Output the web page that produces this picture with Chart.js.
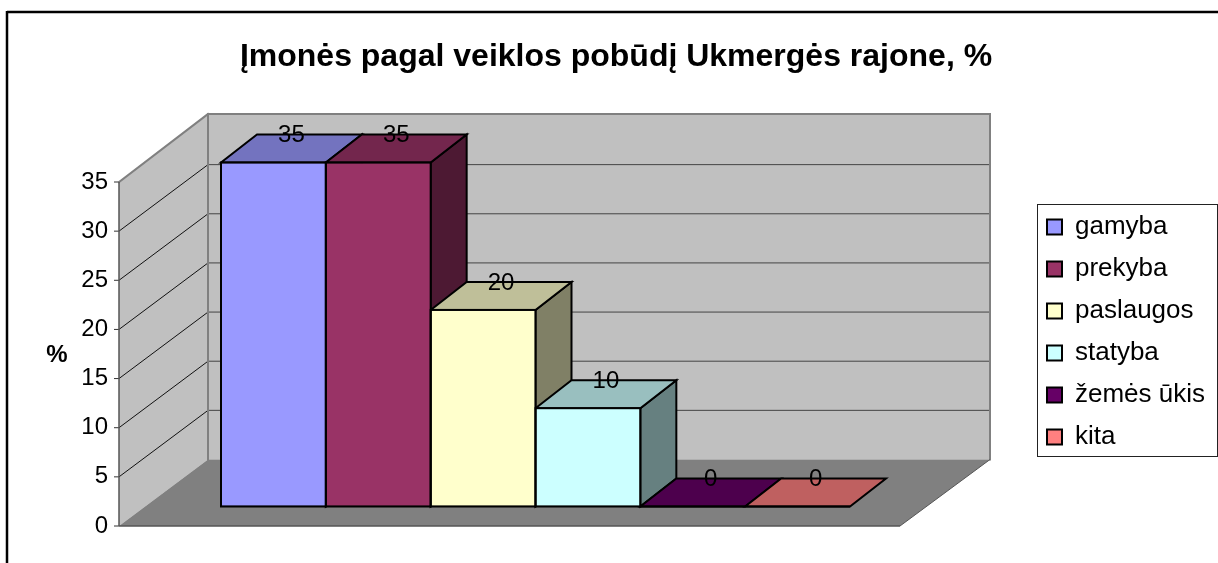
<!DOCTYPE html>
<html>
<head>
<meta charset="utf-8">
<script src="https://cdn.jsdelivr.net/npm/chart.js@4"></script>
<style>html,body{margin:0;padding:0;background:#fff;overflow:hidden}canvas{display:block}</style>
</head>
<body>
<canvas id="c" width="1218" height="563"></canvas>
<script>
const titleText = 'Įmonės pagal veiklos pobūdį Ukmergės rajone, %';
const categories = [''];
const seriesNames = ['gamyba', 'prekyba', 'paslaugos', 'statyba', 'žemės ūkis', 'kita'];
const seriesValues = [35, 35, 20, 10, 0, 0];
const frontColors = ['#9999FF', '#993366', '#FFFFCC', '#CCFFFF', '#660066', '#FF8080'];
const topColors = ['#7373BF', '#73264D', '#BFBF99', '#99BFBF', '#4D004D', '#BF6060'];
const sideColors = ['#4D4D80', '#4D1933', '#808066', '#668080', '#330033', '#804040'];
const yAxisLabel = '%';

const FONT = '"Liberation Sans", Arial, sans-serif';
const BAR_SHIFT = -19.5;
const DEPTH = { x: 36, y: -28 };
const WALL = { x: 89, y: -66.5, topExtra: -1.5, frontLeft: 119, frontRight: 900, backRight: 990 };

function poly(ctx, pts, fill, stroke, lw) {
  ctx.beginPath();
  pts.forEach((p, i) => i ? ctx.lineTo(p[0], p[1]) : ctx.moveTo(p[0], p[1]));
  ctx.closePath();
  if (fill) { ctx.fillStyle = fill; ctx.fill(); }
  if (stroke) { ctx.strokeStyle = stroke; ctx.lineWidth = lw; ctx.lineJoin = 'miter'; ctx.stroke(); }
}
function line(ctx, x1, y1, x2, y2, color, lw) {
  ctx.beginPath(); ctx.moveTo(x1, y1); ctx.lineTo(x2, y2);
  ctx.strokeStyle = color; ctx.lineWidth = lw; ctx.stroke();
}
function barBox(chart, i) {
  const el = chart.getDatasetMeta(i).data[0];
  const p = el.getProps(['x', 'y', 'base', 'width'], true);
  return { l: p.x - p.width / 2, r: p.x + p.width / 2, t: p.y + BAR_SHIFT, b: p.base + BAR_SHIFT, cx: p.x };
}

const scene3d = {
  id: 'scene3d',
  afterLayout(chart) {
    const lg = chart.legend;
    lg.left = 1031; lg.right = 1218;
    lg.top = 198; lg.bottom = 563;
    const tb = chart.titleBlock;
    tb.left = 14; tb.right = 1218;
    tb.top = 37.5; tb.bottom = 37.5 + tb.height;
  },
  beforeDraw(chart) {
    const ctx = chart.ctx;
    ctx.save();
    // outer frame
    line(ctx, 7, 12, 1218, 12, '#000', 2.5);
    line(ctx, 7, 11, 7, 563, '#000', 2.5);
    // legend box
    ctx.fillStyle = '#fff';
    ctx.fillRect(1037.5, 204.5, 181, 252);
    ctx.strokeStyle = '#222'; ctx.lineWidth = 1;
    ctx.strokeRect(1037.5, 204.5, 180, 252);
    ctx.restore();
  },
  beforeDatasetsDraw(chart) {
    const ctx = chart.ctx, y = chart.scales.y;
    const y0 = y.getPixelForValue(0), yMax = y.getPixelForValue(y.max);
    const bx = WALL.frontLeft + WALL.x;
    const wallTop = yMax + WALL.y + WALL.topExtra;
    ctx.save();
    // back wall, left wall, floor
    poly(ctx, [[bx, wallTop], [WALL.backRight, wallTop], [WALL.backRight, y0 + WALL.y], [bx, y0 + WALL.y]], '#C0C0C0');
    poly(ctx, [[WALL.frontLeft, yMax], [bx, wallTop], [bx, y0 + WALL.y], [WALL.frontLeft, y0]], '#C0C0C0');
    poly(ctx, [[WALL.frontLeft, y0], [bx, y0 + WALL.y], [WALL.backRight, y0 + WALL.y], [WALL.frontRight, y0]], '#808080');
    // grid lines
    y.ticks.forEach(t => {
      const p = y.getPixelForValue(t.value);
      if (t.value > 0 && t.value < y.max) {
        line(ctx, WALL.frontLeft, p, bx, p + WALL.y, '#111', 1);
        line(ctx, bx, p + WALL.y, WALL.backRight, p + WALL.y, '#444', 1);
      }
      line(ctx, WALL.frontLeft - 5, p, WALL.frontLeft, p, '#333', 1);
    });
    // wall outlines
    ctx.lineCap = 'square';
    line(ctx, WALL.frontLeft, yMax, bx, wallTop, '#808080', 2);
    line(ctx, bx, wallTop, WALL.backRight, wallTop, '#808080', 2);
    line(ctx, bx, wallTop, bx, y0 + WALL.y, '#808080', 2);
    line(ctx, WALL.backRight, wallTop, WALL.backRight, y0 + WALL.y, '#808080', 2);
    ctx.lineCap = 'butt';
    line(ctx, WALL.backRight, y0 + WALL.y, WALL.frontRight, y0, '#555', 1);
    line(ctx, WALL.frontLeft, y0, WALL.frontRight, y0, '#555', 1.5);
    line(ctx, WALL.frontLeft, yMax, WALL.frontLeft, y0, '#555', 1.5);
    // 3D faces
    seriesValues.forEach((v, i) => {
      const b = barBox(chart, i);
      const d = DEPTH;
      if (b.b - b.t > 0.5) {
        poly(ctx, [[b.r, b.t], [b.r + d.x, b.t + d.y], [b.r + d.x, b.b + d.y], [b.r, b.b]], sideColors[i], '#000', 2);
      }
      poly(ctx, [[b.l, b.t], [b.l + d.x, b.t + d.y], [b.r + d.x, b.t + d.y], [b.r, b.t]], topColors[i], '#000', 2);
    });
    ctx.restore();
    // shift the bars onto their plane inside the 3D box
    ctx.save();
    ctx.translate(0, BAR_SHIFT);
  },
  afterDatasetsDraw(chart) {
    const ctx = chart.ctx;
    ctx.restore();
    ctx.save();
    seriesValues.forEach((v, i) => {
      const b = barBox(chart, i);
      ctx.strokeStyle = '#000'; ctx.lineWidth = 2;
      ctx.strokeRect(b.l, b.t, b.r - b.l, b.b - b.t);
    });
    ctx.fillStyle = '#000';
    ctx.font = '24px ' + FONT;
    ctx.textAlign = 'center';
    ctx.textBaseline = 'middle';
    seriesValues.forEach((v, i) => {
      const b = barBox(chart, i);
      ctx.fillText(String(v), b.cx + DEPTH.x / 2, b.t + DEPTH.y + 1);
    });
    ctx.font = 'bold 24px ' + FONT;
    ctx.fillText(yAxisLabel, 57, 355);
    ctx.restore();
  }
};

new Chart(document.getElementById('c'), {
  type: 'bar',
  data: {
    labels: categories,
    datasets: seriesNames.map((name, i) => ({
      label: name,
      data: [seriesValues[i]],
      backgroundColor: frontColors[i],
      borderColor: '#000',
      borderWidth: 1,
      borderSkipped: false,
      barPercentage: 1,
      categoryPercentage: 1
    }))
  },
  options: {
    responsive: false,
    animation: false,
    layout: { padding: { left: 0, right: 368, top: 143.6, bottom: 37 } },
    scales: {
      x: { display: false, grid: { display: false } },
      y: {
        min: 0, max: 35,
        border: { display: false },
        grid: { display: false, drawTicks: false },
        ticks: { stepSize: 5, padding: 113, color: '#000', font: { family: FONT, size: 24 } },
        afterFit(s) { s.width = 221; s.paddingTop = 0; s.paddingBottom = 0; }
      }
    },
    plugins: {
      title: {
        display: true,
        text: titleText,
        color: '#000',
        font: { family: FONT, size: 32, weight: 'bold', lineHeight: 1.2 },
        padding: 0
      },
      legend: {
        display: true,
        position: 'chartArea',
        fullSize: false,
        align: 'start',
        labels: {
          boxWidth: 15, boxHeight: 15, padding: 16, color: '#000',
          font: { family: FONT, size: 26 },
          generateLabels(chart) {
            return Chart.defaults.plugins.legend.labels.generateLabels(chart).map(l => Object.assign(l, { lineWidth: 2 }));
          }
        }
      },
      tooltip: { enabled: false }
    }
  },
  plugins: [scene3d]
});
</script>
</body>
</html>
